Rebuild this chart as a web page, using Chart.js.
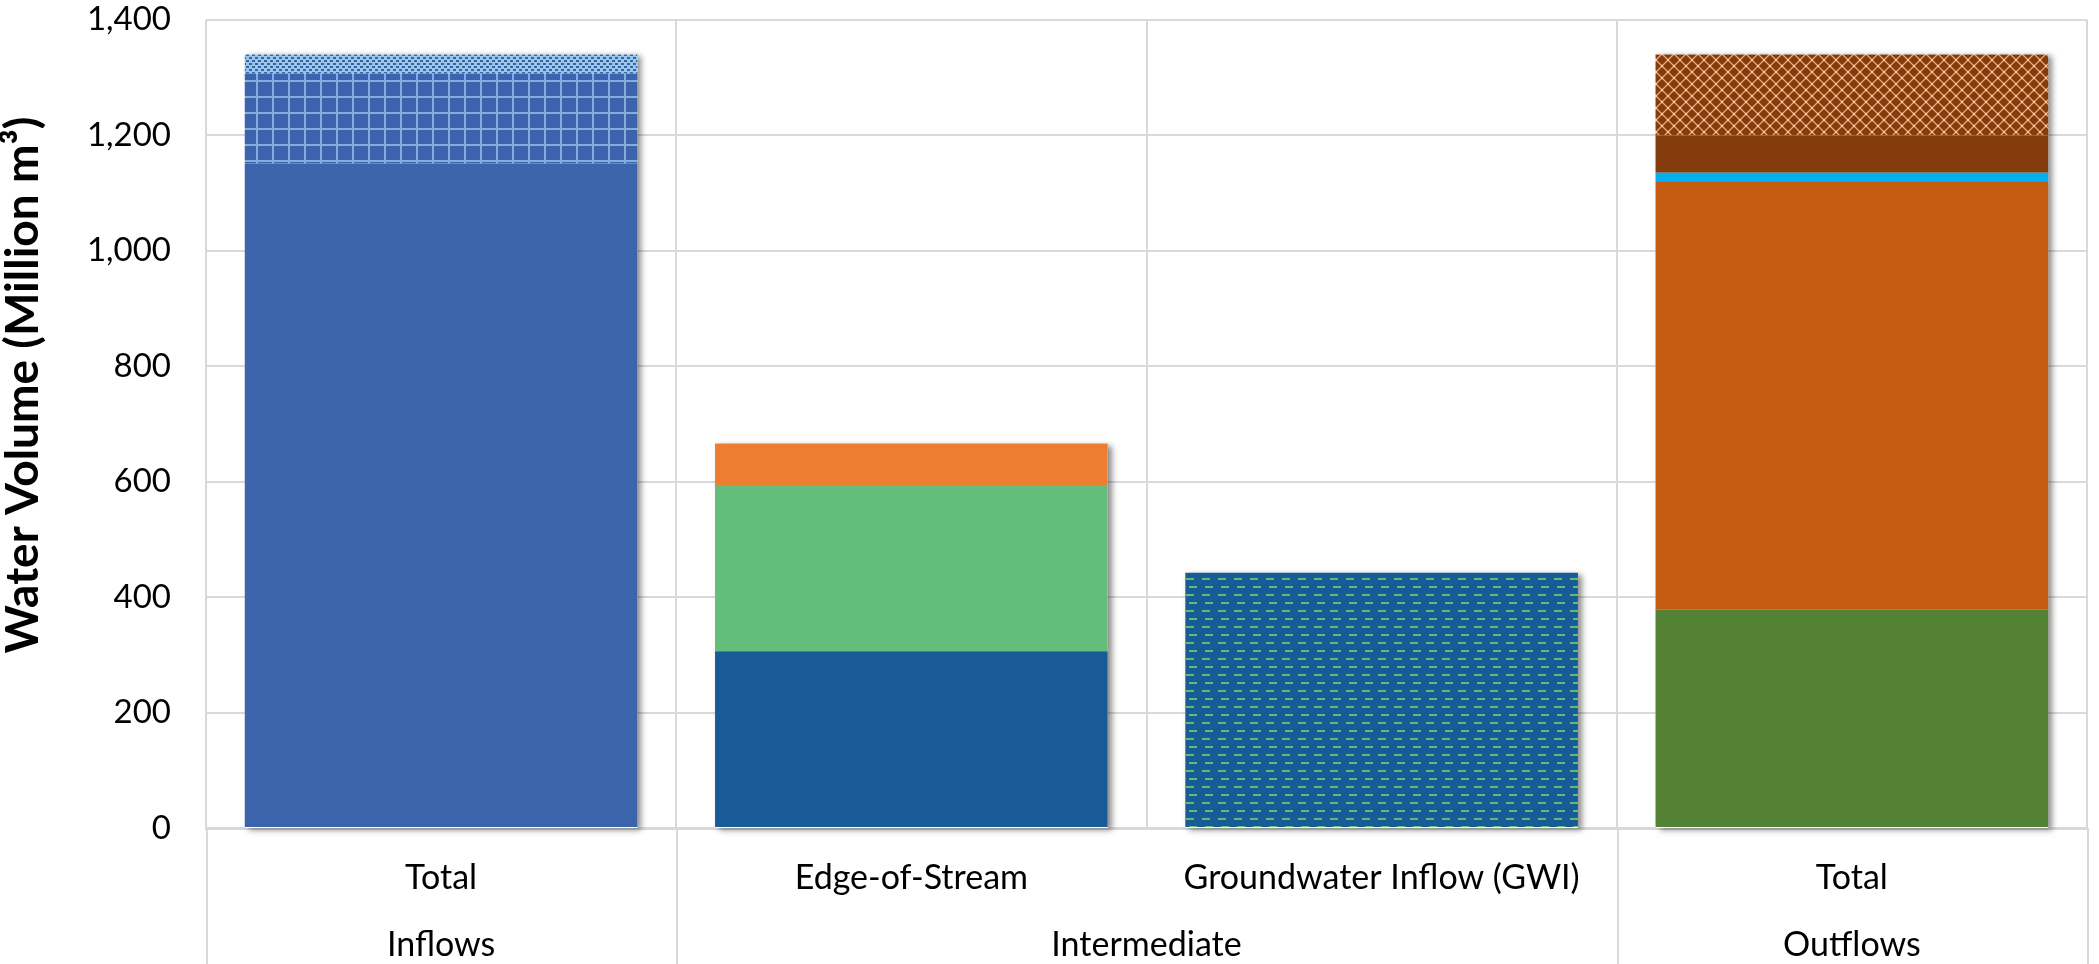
<!DOCTYPE html>
<html>
<head>
<meta charset="utf-8">
<script src="https://cdn.jsdelivr.net/npm/chart.js@4.4.1/dist/chart.umd.min.js"></script>
<style>
  html, body { margin: 0; padding: 0; background: #ffffff; }
  #wrap { width: 2099px; height: 964px; }
</style>
</head>
<body>
<div id="wrap"><canvas id="chart" width="2099" height="964"></canvas></div>
<script>
// ---- Data (Million m³) ----
const subLabels = ['Total', 'Edge-of-Stream', 'Groundwater Inflow (GWI)', 'Total'];
const groupLabels = ['Inflows', 'Intermediate', 'Outflows'];
const groupSpans = [1, 2, 1];
const yTicks = [0, 200, 400, 600, 800, 1000, 1200, 1400];
const yTitle = 'Water Volume (Million m³)';

// Inflows stack (bottom to top)
const inflowBase    = [1151, null, null, null];
const inflowGrid    = [156,  null, null, null];
const inflowDots    = [33,   null, null, null];
// Edge-of-Stream stack
const edgeLower     = [null, 306, null, null];
const edgeMiddle    = [null, 288, null, null];
const edgeUpper     = [null, 72,  null, null];
// Groundwater inflow
const gwiVolume     = [null, null, 442, null];
// Outflows stack
const outGreen      = [null, null, null, 378];
const outOrange     = [null, null, null, 741];
const outCyan       = [null, null, null, 16];
const outBrown      = [null, null, null, 65];
const outLattice    = [null, null, null, 140];

// ---- Fill patterns ----
function makePattern(w, h, draw) {
  const c = document.createElement('canvas');
  c.width = w; c.height = h;
  const g = c.getContext('2d');
  draw(g, w, h);
  return g.createPattern(c, 'repeat');
}
const ctx = document.getElementById('chart').getContext('2d');

const gridPattern = makePattern(16, 16, (g, w, h) => {
  g.fillStyle = '#3c63ab'; g.fillRect(0, 0, w, h);
  g.fillStyle = '#86aedd';
  g.fillRect(0, 0, w, 2);
  g.fillRect(0, 0, 2, h);
});
const dotsPattern = makePattern(6, 6, (g, w, h) => {
  g.fillStyle = '#9ec4ea'; g.fillRect(0, 0, w, h);
  g.fillStyle = '#2f6aa8';
  g.fillRect(0, 0, 3, 2);
  g.fillRect(3, 3, 3, 2);
});
const dashPattern = makePattern(16, 16, (g, w, h) => {
  g.fillStyle = '#195b96'; g.fillRect(0, 0, w, h);
  g.fillStyle = '#5fbd78';
  g.fillRect(2, 2, 8, 2);
  g.fillRect(5, 10, 8, 2);
});
const latticePattern = makePattern(12, 12, (g, w, h) => {
  g.fillStyle = '#843c0c'; g.fillRect(0, 0, w, h);
  g.strokeStyle = '#eeaa7c';
  g.lineWidth = 1.3;
  g.beginPath();
  g.moveTo(0, 0); g.lineTo(w, h);
  g.moveTo(w, 0); g.lineTo(0, h);
  g.stroke();
  g.fillStyle = '#843c0c';
  g.beginPath(); g.arc(w / 2, 0, 3, 0, Math.PI * 2); g.fill();
  g.beginPath(); g.arc(w / 2, h, 3, 0, Math.PI * 2); g.fill();
  g.beginPath(); g.arc(0, h / 2, 3, 0, Math.PI * 2); g.fill();
  g.beginPath(); g.arc(w, h / 2, 3, 0, Math.PI * 2); g.fill();
  g.fillStyle = '#f7caa8';
  g.fillRect(w / 2 - 1, h / 2 - 1, 2, 2);
  g.fillRect(-1, -1, 2, 2); g.fillRect(w - 1, -1, 2, 2);
  g.fillRect(-1, h - 1, 2, 2); g.fillRect(w - 1, h - 1, 2, 2);
});

const seg = (label, data, color) => ({
  label, data, backgroundColor: color, borderWidth: 0, stack: 'flows'
});

const datasets = [
  seg('Inflow base', inflowBase, '#3c64ac'),
  seg('Inflow grid', inflowGrid, gridPattern),
  seg('Inflow dots', inflowDots, dotsPattern),
  seg('Edge lower', edgeLower, '#185b96'),
  seg('Edge middle', edgeMiddle, '#63be7b'),
  seg('Edge upper', edgeUpper, '#ed7d31'),
  seg('GWI', gwiVolume, dashPattern),
  seg('Out green', outGreen, '#548235'),
  seg('Out orange', outOrange, '#c55a11'),
  seg('Out cyan', outCyan, '#00b0f0'),
  seg('Out brown', outBrown, '#843c0c'),
  seg('Out lattice', outLattice, latticePattern)
];

const FONT = 'Lato, "Noto Sans", sans-serif';
const LINE = '#d9d9d9';

// Soft drop shadow behind each full stack
const stackShadow = {
  id: 'stackShadow',
  beforeDatasetsDraw(chart) {
    const c = chart.ctx, x = chart.scales.x, y = chart.scales.y;
    subLabels.forEach((_, i) => {
      let total = 0, width = null;
      chart.data.datasets.forEach((ds, d) => {
        const v = ds.data[i];
        if (v != null) {
          total += v;
          const el = chart.getDatasetMeta(d).data[i];
          if (el && width == null) width = el.width;
        }
      });
      if (!width) return;
      const top = y.getPixelForValue(total), bot = y.getPixelForValue(0);
      const cx = x.getPixelForValue(i);
      c.save();
      c.shadowColor = 'rgba(0,0,0,0.45)';
      c.shadowBlur = 6;
      c.shadowOffsetX = 4;
      c.shadowOffsetY = 2;
      c.fillStyle = '#ffffff';
      c.fillRect(cx - width / 2, top, width, bot - top);
      c.restore();
    });
  }
};

// Group labels, separators below the category axis, and the value-axis title
const groupAxis = {
  id: 'groupAxis',
  afterDraw(chart) {
    const c = chart.ctx, x = chart.scales.x, area = chart.chartArea;
    const step = x.getPixelForValue(1) - x.getPixelForValue(0);
    c.save();
    c.strokeStyle = LINE;
    c.lineWidth = 2;
    let start = 0;
    const bounds = [0];
    groupSpans.forEach(s => { start += s; bounds.push(start); });
    bounds.forEach(b => {
      const px = Math.round(x.getPixelForValue(b) - step / 2) + 1;
      c.beginPath();
      c.moveTo(px, area.bottom);
      c.lineTo(px, chart.height);
      c.stroke();
    });
    c.fillStyle = '#000000';
    c.font = '34px ' + FONT;
    c.textAlign = 'center';
    c.textBaseline = 'middle';
    start = 0;
    groupLabels.forEach((lab, g) => {
      const end = start + groupSpans[g] - 1;
      const cx = (x.getPixelForValue(start) + x.getPixelForValue(end)) / 2;
      c.fillText(lab, cx, area.bottom + 117);
      start += groupSpans[g];
    });
    // rotated title for the value axis
    c.translate(23, 385);
    c.rotate(-Math.PI / 2);
    c.font = 'bold 46px ' + FONT;
    c.fillText(yTitle, 0, 0);
    c.restore();
  }
};

new Chart(ctx, {
  type: 'bar',
  data: { labels: subLabels, datasets },
  plugins: [stackShadow, groupAxis],
  options: {
    responsive: false,
    animation: false,
    devicePixelRatio: 1,
    layout: { padding: { top: 0, right: 12, left: 0, bottom: 0 } },
    plugins: { legend: { display: false }, tooltip: { enabled: false } },
    datasets: { bar: { barPercentage: 0.835, categoryPercentage: 1.0 } },
    scales: {
      x: {
        stacked: true,
        grid: { color: LINE, lineWidth: 2, offset: true, drawTicks: false },
        border: { display: true, color: LINE, width: 3 },
        ticks: { color: '#000000', font: { family: FONT, size: 34 }, padding: 30, maxRotation: 0, autoSkip: false },
        afterFit(scale) { scale.height = 136; }
      },
      y: {
        stacked: true,
        min: yTicks[0],
        max: yTicks[yTicks.length - 1],
        afterBuildTicks(scale) { scale.ticks = yTicks.map(v => ({ value: v })); },
        grid: { color: LINE, lineWidth: 2, drawTicks: true, tickLength: 35, tickColor: 'rgba(0,0,0,0)' },
        border: { display: false },
        ticks: {
          color: '#000000',
          font: { family: FONT, size: 33 },
          padding: 0,
          callback: v => v.toLocaleString('en-US')
        },
        afterFit(scale) { scale.width = 206; }
      }
    }
  }
});
</script>
</body>
</html>
